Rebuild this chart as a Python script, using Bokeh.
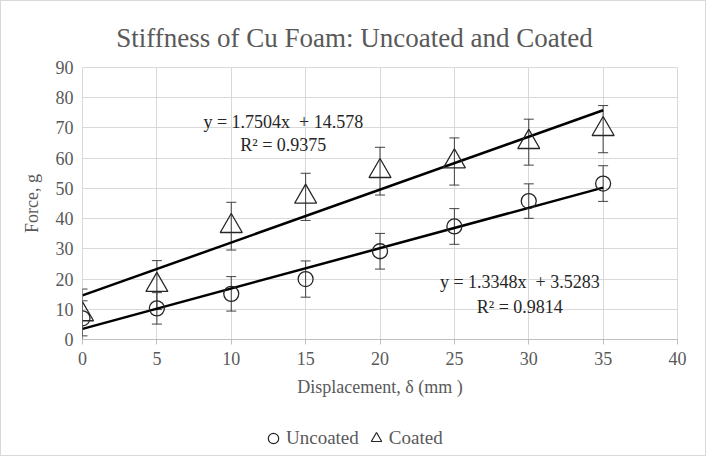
from bokeh.plotting import figure
from bokeh.layouts import column
from bokeh.models import (ColumnDataSource, Range1d, FixedTicker, Whisker, TeeHead,
                          Legend, LegendItem, Label)
from bokeh.embed import file_html
from bokeh.resources import INLINE

# ---------------- data ----------------
displacement = [0, 5, 10, 15, 20, 25, 30, 35]
uncoated = [7.0, 10.3, 15.1, 20.0, 29.2, 37.4, 45.8, 51.6]
uncoated_err = [5.8, 5.2, 5.7, 6.0, 5.9, 5.9, 5.7, 5.9]
coated = [8.3, 18.0, 37.5, 47.2, 55.7, 58.9, 65.3, 69.6]
coated_err = [8.4, 8.1, 7.9, 7.8, 7.9, 7.8, 7.6, 7.8]

fit_uncoated = (1.3348, 3.5283, 0.9814)   # slope, intercept, R^2
fit_coated = (1.7504, 14.578, 0.9375)

x_ticks = [0, 5, 10, 15, 20, 25, 30, 35, 40]
y_ticks = [0, 10, 20, 30, 40, 50, 60, 70, 80, 90]

title_text = "Stiffness of Cu Foam: Uncoated and Coated"
x_label = "Displacement, \u03b4 (mm )"
y_label = "Force, g"
series_names = ["Uncoated", "Coated"]

FONT = "Liberation Serif"
GRAY = "#595959"
GRID = "#d9d9d9"
INK = "#262626"
W = 704


def bare_figure(h):
    f = figure(width=W, height=h, output_backend="svg", toolbar_location=None,
               x_range=Range1d(-2, -1), y_range=Range1d(-2, -1),
               x_axis_location=None, y_axis_location=None,
               min_border_left=0, min_border_right=0, min_border_top=0, min_border_bottom=0)
    f.outline_line_color = None
    f.xgrid.visible = False
    f.ygrid.visible = False
    f.background_fill_color = "white"
    f.border_fill_color = "white"
    return f


# ---------------- title strip ----------------
TH = 54
pt = bare_figure(TH)
pt.add_layout(Label(x=272, y=18, x_units="screen", y_units="screen", text=title_text,
                    text_align="center", text_baseline="alphabetic", text_font=FONT,
                    text_font_size="27px", text_color=GRAY))

# ---------------- main plot ----------------
p = figure(width=W, height=354, output_backend="svg", toolbar_location=None,
           x_range=Range1d(x_ticks[0], x_ticks[-1]), y_range=Range1d(y_ticks[0], y_ticks[-1]),
           min_border_left=81, min_border_right=28, min_border_top=12, min_border_bottom=70)
p.outline_line_color = GRID
p.background_fill_color = "white"
p.border_fill_color = "white"

p.xgrid.ticker = FixedTicker(ticks=x_ticks)
p.ygrid.ticker = FixedTicker(ticks=y_ticks)
p.xgrid.grid_line_color = GRID
p.ygrid.grid_line_color = GRID

p.xaxis.ticker = FixedTicker(ticks=x_ticks)
p.yaxis.ticker = FixedTicker(ticks=y_ticks)
for ax in (p.xaxis[0], p.yaxis[0]):
    ax.major_label_text_font = FONT
    ax.major_label_text_font_size = "18px"
    ax.major_label_text_color = GRAY
    ax.axis_label_text_font = FONT
    ax.axis_label_text_font_size = "18px"
    ax.axis_label_text_font_style = "normal"
    ax.axis_label_text_color = GRAY
    ax.minor_tick_line_color = None
    ax.major_tick_in = 0

p.xaxis.axis_label = x_label
p.xaxis.axis_line_color = "#bfbfbf"
p.xaxis.major_tick_line_color = "#bfbfbf"
p.xaxis.major_tick_out = 5
p.xaxis.major_label_standoff = 7
p.xaxis.axis_label_standoff = 9

p.yaxis.axis_label = y_label
p.yaxis.axis_line_color = None
p.yaxis.major_tick_line_color = None
p.yaxis.major_tick_out = 0
p.yaxis.major_label_standoff = 9
p.yaxis.axis_label_standoff = 11

# trend lines
x_end = [displacement[0], displacement[-1]]
for slope, intercept, _ in (fit_coated, fit_uncoated):
    p.line(x_end, [slope * x + intercept for x in x_end], line_color="black", line_width=2.5)

# error bars
for vals, errs in ((uncoated, uncoated_err), (coated, coated_err)):
    src = ColumnDataSource(dict(x=displacement,
                                upper=[v + e for v, e in zip(vals, errs)],
                                lower=[v - e for v, e in zip(vals, errs)]))
    p.add_layout(Whisker(base="x", upper="upper", lower="lower", source=src,
                         line_color="#404040", line_width=1,
                         upper_head=TeeHead(size=10, line_color="#404040", line_width=1),
                         lower_head=TeeHead(size=10, line_color="#404040", line_width=1)))

# markers
p.scatter(displacement, uncoated, marker="circle", size=15, fill_color=None,
          line_color=INK, line_width=1.3)
p.scatter(displacement, coated, marker="triangle", size=22, fill_color=None,
          line_color=INK, line_width=1.3)

# equations
def eq_text(fit):
    return "y = %.4fx\u00a0 + %s" % (fit[0], repr(fit[1]))

for fit, ex, ey, ry in ((fit_coated, 13.5, 72.1, 64.2), (fit_uncoated, 29.4, 18.9, 10.9)):
    p.add_layout(Label(x=ex, y=ey, text=eq_text(fit), text_align="center", text_baseline="middle",
                       text_font=FONT, text_font_size="18px", text_color=INK))
    p.add_layout(Label(x=ex, y=ry, text="R\u00b2 = %s" % repr(fit[2]), text_align="center",
                       text_baseline="middle", text_font=FONT, text_font_size="18px", text_color=INK))

# ---------------- legend strip ----------------
LH = 454 - TH - 354
pl = bare_figure(LH)
# legend proxies: same series, drawn outside this strip's visible range
leg_u = pl.scatter(displacement, uncoated, marker="circle", fill_color=None,
                   line_color=INK, line_width=1.2)
leg_c = pl.scatter(displacement, coated, marker="triangle", fill_color=None,
                   line_color=INK, line_width=1.2)
legend = Legend(items=[LegendItem(label=series_names[0], renderers=[leg_u]),
                       LegendItem(label=series_names[1], renderers=[leg_c])],
                orientation="horizontal", location=(178, 4),
                glyph_width=26, glyph_height=26, label_standoff=-5, spacing=4,
                padding=0, margin=0, border_line_color=None, background_fill_alpha=0,
                label_text_font=FONT, label_text_font_size="19px", label_text_color=GRAY)
pl.add_layout(legend, "center")

layout = column(pt, p, pl, spacing=0, styles={"border": "1px solid #d9d9d9"})

open("out.html", "w").write(file_html(layout, INLINE))
